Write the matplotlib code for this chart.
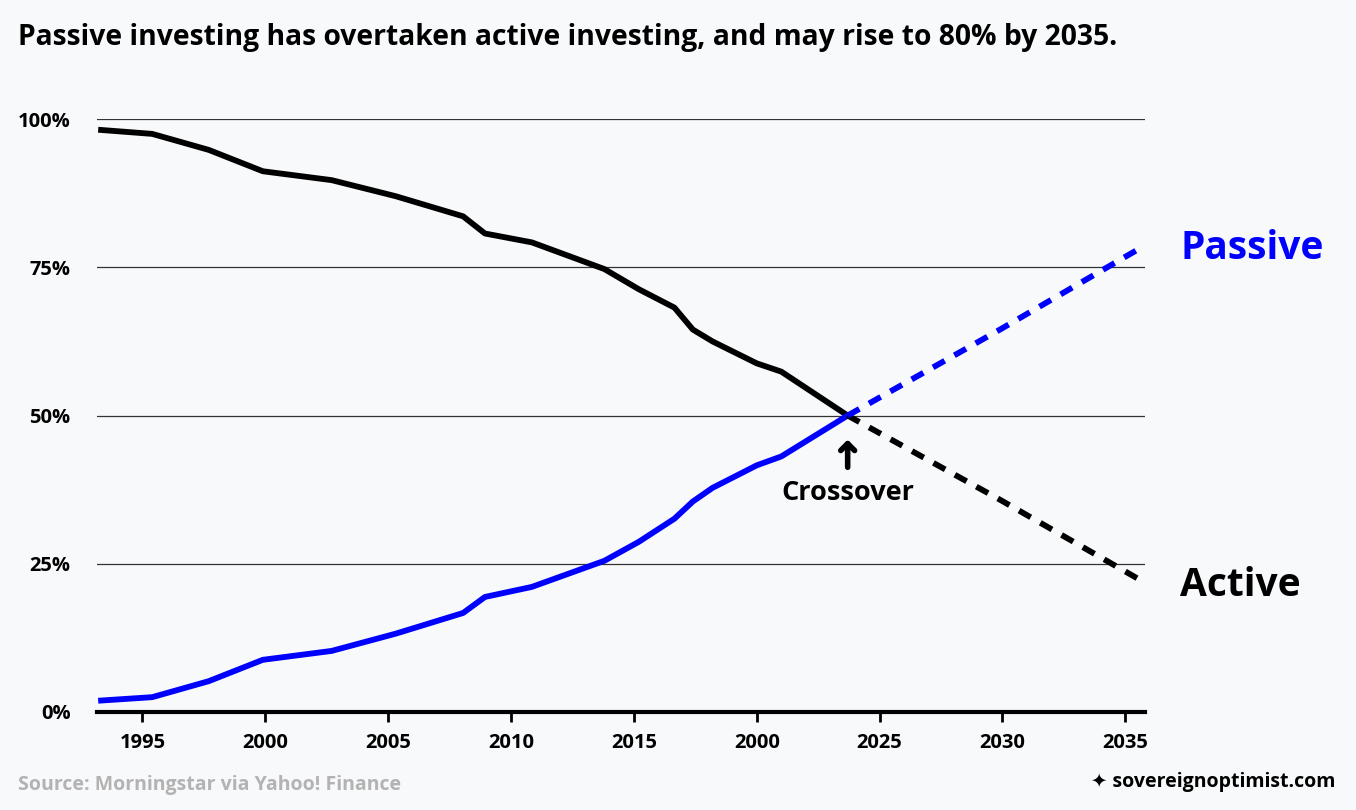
import matplotlib
matplotlib.use('Agg')
import matplotlib.pyplot as plt

plt.rcParams['font.family'] = ['Open Sans', 'DejaVu Sans']

# historical share of fund assets (%)
years_hist = [1993.2, 1995.4, 1997.7, 1999.9, 2002.7, 2005.3, 2008.05, 2008.94, 2010.85,
              2013.8, 2015.2, 2016.65, 2017.4, 2018.2, 2020.0, 2021.0, 2023.7]
active_hist = [98.2, 97.5, 94.8, 91.2, 89.7, 87.0, 83.6, 80.7, 79.2,
               74.7, 71.3, 68.2, 64.5, 62.5, 58.8, 57.4, 50.0]
passive_hist = [1.9, 2.5, 5.2, 8.8, 10.3, 13.2, 16.7, 19.4, 21.1,
                25.5, 28.7, 32.6, 35.5, 37.8, 41.6, 43.1, 50.0]

# projection
years_proj = [2023.7, 2029.9, 2035.8]
active_proj = [50.0, 35.8, 21.8]
passive_proj = [50.0, 64.5, 78.7]

x_ticks = [1995, 2000, 2005, 2010, 2015, 2020, 2025, 2030, 2035]
x_labels = ['1995', '2000', '2005', '2010', '2015', '2000', '2025', '2030', '2035']
y_ticks = [0, 25, 50, 75, 100]
y_labels = ['0%', '25%', '50%', '75%', '100%']

bg = '#f8f9fb'
blue = '#0000ff'

fig = plt.figure(figsize=(13.56, 8.1), dpi=100, facecolor=bg)
ax = fig.add_axes([0.0715, 0.121, 0.7729, 0.732], facecolor=bg)

ax.plot(years_hist, active_hist, color='black', lw=4.2, solid_capstyle='butt', zorder=3)
ax.plot(years_hist, passive_hist, color=blue, lw=4.2, solid_capstyle='butt', zorder=3)
ax.plot(years_proj, active_proj, color='black', lw=4.2, linestyle=(0, (2.3, 1.9)), zorder=3)
ax.plot(years_proj, passive_proj, color=blue, lw=4.2, linestyle=(0, (2.3, 1.9)), zorder=3)

ax.set_xlim(1993.15, 2035.8)
ax.set_ylim(0, 100)
ax.set_xticks(x_ticks)
ax.set_xticklabels(x_labels, fontsize=14.5, fontweight='bold')
ax.set_yticks(y_ticks)
ax.set_yticklabels(y_labels, fontsize=14.5, fontweight='bold')
ax.tick_params(axis='y', length=0, pad=19)
ax.tick_params(axis='x', length=7, width=2, color='black', pad=8)

ax.grid(axis='y', color='#333333', lw=0.9)
ax.set_axisbelow(True)
for s in ['top', 'right', 'left']:
    ax.spines[s].set_visible(False)
ax.spines['bottom'].set_linewidth(3)
ax.spines['bottom'].set_color('black')
ax.spines['bottom'].set_zorder(4)

ax.annotate('', xy=(2023.7, 46.4), xytext=(2023.7, 40.8),
            arrowprops=dict(arrowstyle='->, head_width=0.5, head_length=0.5',
                            lw=4, color='black'))
ax.text(2023.7, 37.0, 'Crossover', ha='center', va='center', fontsize=19.5, fontweight='bold')

fig.text(1180 / 1356, 1 - 248 / 810, 'Passive', color=blue, fontsize=28, fontweight='bold',
         ha='left', va='center')
fig.text(1180 / 1356, 1 - 586 / 810, 'Active', color='black', fontsize=28, fontweight='bold',
         ha='left', va='center')

fig.text(18 / 1356, 1 - 38 / 810, 'Passive investing has overtaken active investing, and may rise to 80% by 2035.',
         fontsize=20.3, fontweight='bold', ha='left', va='center')
fig.text(18 / 1356, 1 - 785 / 810, 'Source: Morningstar via Yahoo! Finance', color='#b3b3b3',
         fontsize=14, fontweight='bold', ha='left', va='center')
fig.text(1335 / 1356, 1 - 782 / 810, '\u2726 sovereignoptimist.com', color='black',
         fontsize=14, fontweight='bold', ha='right', va='center')

fig.savefig('out.png', dpi=100, facecolor=bg)
